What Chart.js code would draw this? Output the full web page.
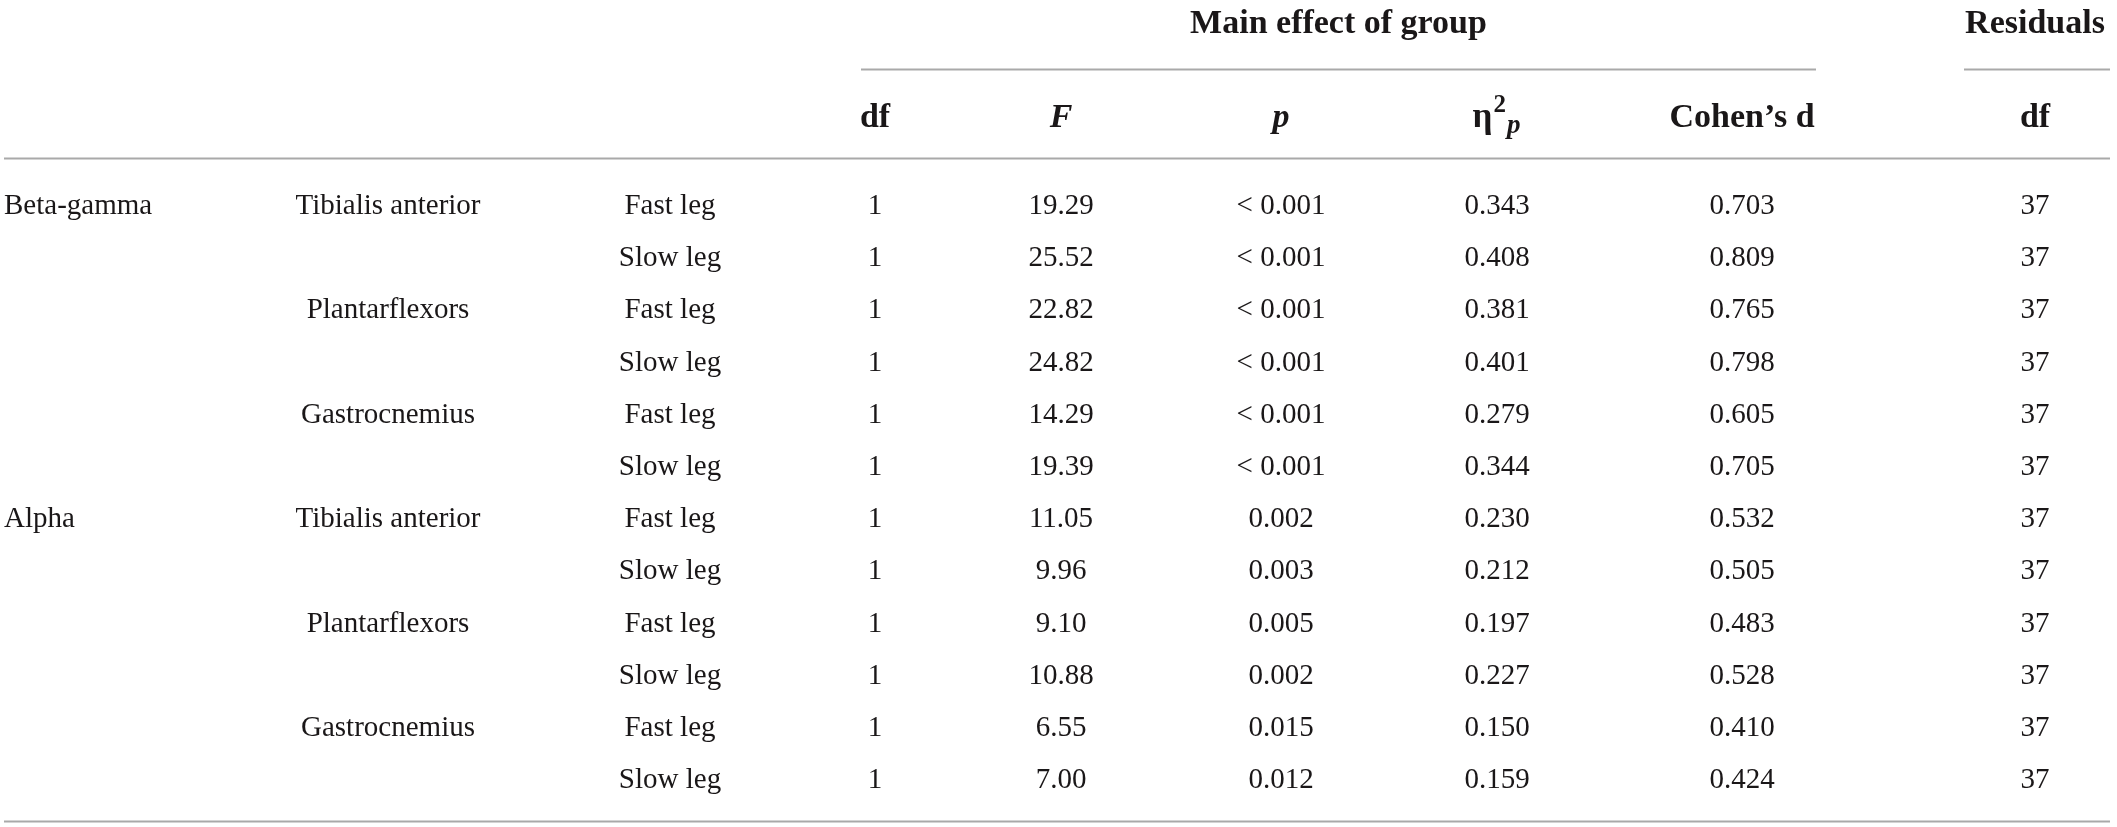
<!DOCTYPE html>
<html>
<head>
<meta charset="utf-8">
<script src="https://cdn.jsdelivr.net/npm/chart.js@4.4.1/dist/chart.umd.min.js"></script>
<style>
html, body { margin: 0; padding: 0; background: #fff; }
#wrap { width: 2117px; height: 827px; position: relative; }
</style>
</head>
<body>
<div id="wrap"><canvas id="myChart"></canvas></div>
<script>
// table content
const bands = ["Beta-gamma", "Alpha"];
const muscles = ["Tibialis anterior", "Plantarflexors", "Gastrocnemius"];
const legs = ["Fast leg", "Slow leg"];
const dfGroup = [1, 1, 1, 1, 1, 1, 1, 1, 1, 1, 1, 1];
const fValues = [19.29, 25.52, 22.82, 24.82, 14.29, 19.39, 11.05, 9.96, 9.10, 10.88, 6.55, 7.00];
const pValues = ["< 0.001", "< 0.001", "< 0.001", "< 0.001", "< 0.001", "< 0.001",
                 "0.002", "0.003", "0.005", "0.002", "0.015", "0.012"];
const etaValues = [0.343, 0.408, 0.381, 0.401, 0.279, 0.344, 0.230, 0.212, 0.197, 0.227, 0.150, 0.159];
const cohenD = [0.703, 0.809, 0.765, 0.798, 0.605, 0.705, 0.532, 0.505, 0.483, 0.528, 0.410, 0.424];
const dfResiduals = [37, 37, 37, 37, 37, 37, 37, 37, 37, 37, 37, 37];
const headerLabels = ["df", "F", "p", "eta", "Cohen\u2019s d", "df"];
const groupTitles = ["Main effect of group", "Residuals"];

// layout (x in page units, y in row units)
const colX = { band: 4, muscle: 388, leg: 670, df: 875, F: 1061, p: 1281, eta: 1497, d: 1742, res: 2035 };
const titleRow = -3.5, headRow = -1.705;
const rules = [
    { y: -2.605, x0: 861, x1: 1816 },
    { y: -2.605, x0: 1964, x1: 2110 },
    { y: -0.9, x0: 4, x1: 2110 },
    { y: 11.8, x0: 4, x1: 2110 }
];
const SERIF = '"Liberation Serif", "DejaVu Serif", serif';
const bodyFont = '29px ' + SERIF;
const boldFont = 'bold 34px ' + SERIF;

const rowIdx = dfGroup.map((_, i) => i);

function column(x, texts, rows, font, align, lift) {
    return {
        data: rows.map(r => ({ x: x, y: r })),
        cells: texts, font: font, align: align, lift: lift,
        pointRadius: 0, pointHoverRadius: 0, showLine: false
    };
}

const bandRows = bands.map((_, b) => b * muscles.length * legs.length);
const muscleRows = [], muscleTexts = [];
bands.forEach((_, b) => muscles.forEach((m, k) => {
    muscleRows.push(b * muscles.length * legs.length + k * legs.length);
    muscleTexts.push(m);
}));
const legTexts = rowIdx.map(i => legs[i % legs.length]);

const datasets = [
    column(colX.band, bands, bandRows, bodyFont, "left", 9),
    column(colX.muscle, muscleTexts, muscleRows, bodyFont, "center", 9),
    column(colX.leg, legTexts, rowIdx, bodyFont, "center", 9),
    column(colX.df, dfGroup.map(String), rowIdx, bodyFont, "center", 9),
    column(colX.F, fValues.map(v => v.toFixed(2)), rowIdx, bodyFont, "center", 9),
    column(colX.p, pValues, rowIdx, bodyFont, "center", 9),
    column(colX.eta, etaValues.map(v => v.toFixed(3)), rowIdx, bodyFont, "center", 9),
    column(colX.d, cohenD.map(v => v.toFixed(3)), rowIdx, bodyFont, "center", 9),
    column(colX.res, dfResiduals.map(String), rowIdx, bodyFont, "center", 9),
    // header rows
    {
        data: [colX.df, colX.F, colX.p, colX.eta, colX.d, colX.res].map(x => ({ x: x, y: headRow })),
        cells: headerLabels, font: boldFont, align: "center", lift: 11, header: true,
        pointRadius: 0, pointHoverRadius: 0, showLine: false
    },
    {
        data: [{ x: (rules[0].x0 + rules[0].x1) / 2, y: titleRow }, { x: colX.res, y: titleRow }],
        cells: groupTitles, font: boldFont, align: "center", lift: 11,
        pointRadius: 0, pointHoverRadius: 0, showLine: false
    }
];

function drawEta(ctx, x, y) {
    const parts = [
        { t: "\u03B7", f: 'bold 35px ' + SERIF, dy: 0 },
        { t: "2", f: 'bold 25px ' + SERIF, dy: -15 },
        { t: "p", f: 'italic bold 27px ' + SERIF, dy: 6 }
    ];
    let w = 0;
    parts.forEach(p => { ctx.font = p.f; p.w = ctx.measureText(p.t).width; w += p.w + 1; });
    let cx = x - w / 2;
    ctx.textAlign = "left";
    parts.forEach(p => { ctx.font = p.f; ctx.fillText(p.t, cx, y + p.dy); cx += p.w + 1; });
}

const tablePlugin = {
    id: "tableCells",
    afterDatasetsDraw(chart) {
        const ctx = chart.ctx;
        const xs = chart.scales.x, ys = chart.scales.y;
        ctx.save();
        ctx.strokeStyle = "#a9a9a9";
        ctx.lineWidth = 2;
        rules.forEach(r => {
            const py = Math.round(ys.getPixelForValue(r.y)) + 0.5;
            ctx.beginPath();
            ctx.moveTo(xs.getPixelForValue(r.x0), py);
            ctx.lineTo(xs.getPixelForValue(r.x1), py);
            ctx.stroke();
        });
        ctx.fillStyle = "#1a1718";
        ctx.textBaseline = "alphabetic";
        chart.data.datasets.forEach((ds, d) => {
            const meta = chart.getDatasetMeta(d);
            meta.data.forEach((el, i) => {
                const txt = ds.cells[i];
                const y = el.y + ds.lift;
                if (ds.header && txt === "eta") { drawEta(ctx, el.x, y); return; }
                let font = ds.font;
                if (ds.header && (txt === "F" || txt === "p")) font = 'italic ' + font;
                ctx.font = font;
                ctx.textAlign = ds.align;
                ctx.fillText(txt, el.x, y);
            });
        });
        ctx.restore();
    }
};

const myChart = document.getElementById("myChart");
new Chart(myChart, {
    type: "scatter",
    data: { datasets },
    options: {
        responsive: true,
        maintainAspectRatio: false,
        animation: false,
        events: [],
        layout: { padding: 0 },
        plugins: { legend: { display: false }, tooltip: { enabled: false } },
        scales: {
            x: { type: "linear", min: 0, max: 2117, display: false },
            y: { type: "linear", min: -3.927, max: 11.916, reverse: true, display: false }
        }
    },
    plugins: [tablePlugin]
});
</script>
</body>
</html>
